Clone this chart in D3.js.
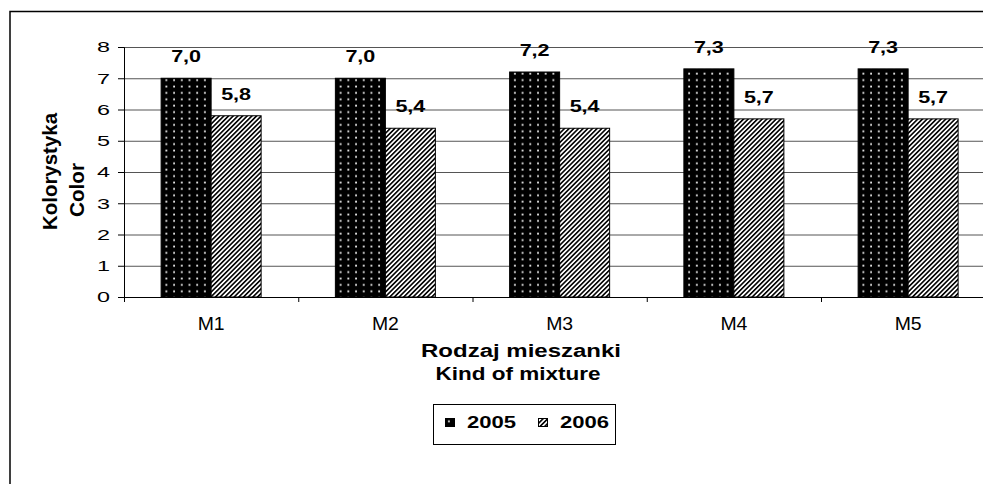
<!DOCTYPE html>
<html>
<head>
<meta charset="utf-8">
<script src="https://cdn.jsdelivr.net/npm/d3@7"></script>
<style>
  body { margin: 0; background: #fff; }
  svg text { font-family: "Liberation Sans", Arial, sans-serif; fill: #000; }
</style>
</head>
<body>
<div id="chart"></div>
<script>
// data
const categories = ["M1", "M2", "M3", "M4", "M5"];
const seriesNames = ["2005", "2006"];
const values2005 = [7.0, 7.0, 7.2, 7.3, 7.3];
const values2006 = [5.8, 5.4, 5.4, 5.7, 5.7];
const yTicks = [0, 1, 2, 3, 4, 5, 6, 7, 8];

const width = 983, height = 484;
const plot = { left: 124, right: 995.25, top: 47, bottom: 297 };

const svg = d3.select("#chart")
  .append("svg")
  .attr("width", width)
  .attr("height", height);

// fill patterns: black with white dots, white with diagonal stripes
const defs = svg.append("defs");
const dots = defs.append("pattern")
  .attr("id", "dots")
  .attr("patternUnits", "userSpaceOnUse")
  .attr("width", 7.7)
  .attr("height", 6.4);
dots.append("rect").attr("width", 7.7).attr("height", 6.4).attr("fill", "#000");
dots.append("rect").attr("x", 3).attr("y", 2.4).attr("width", 1.8).attr("height", 1.8).attr("fill", "#f0f0f0");

const stripes = defs.append("pattern")
  .attr("id", "stripes")
  .attr("patternUnits", "userSpaceOnUse")
  .attr("width", 3.3)
  .attr("height", 3.3)
  .attr("patternTransform", "rotate(45)");
stripes.append("rect").attr("width", 3.3).attr("height", 3.3).attr("fill", "#fff");
stripes.append("rect").attr("width", 1.6).attr("height", 3.3).attr("fill", "#000");

const fills = { "2005": "url(#dots)", "2006": "url(#stripes)" };

// outer frame (cut off at right and bottom)
svg.append("rect")
  .attr("x", 10).attr("y", 11.5)
  .attr("width", 1000).attr("height", 600)
  .attr("fill", "none")
  .attr("stroke", "#000")
  .attr("stroke-width", 1.5);

// scales
const x = d3.scaleBand().domain(categories).range([plot.left, plot.right]).padding(0);
const xInner = d3.scaleBand().domain(seriesNames).range([0, x.bandwidth()]).paddingInner(0).paddingOuter(0.7425);
const y = d3.scaleLinear().domain([0, 8]).range([plot.bottom, plot.top]);

// gridlines
svg.append("g")
  .attr("transform", `translate(${plot.left},0)`)
  .call(d3.axisLeft(y).tickValues(yTicks.slice(1)).tickSize(-(width - plot.left)).tickFormat(""))
  .call(g => g.select(".domain").remove())
  .call(g => g.selectAll("line").attr("stroke", "#555"));

// bars
const rows = categories.map((c, i) => ({ cat: c, vals: [values2005[i], values2006[i]] }));
const groups = svg.selectAll(".grp")
  .data(rows)
  .enter().append("g")
  .attr("class", "grp")
  .attr("transform", d => `translate(${x(d.cat)},0)`);

groups.selectAll("rect")
  .data(d => d.vals.map((v, j) => ({ s: seriesNames[j], v: v })))
  .enter().append("rect")
  .attr("x", d => xInner(d.s))
  .attr("y", d => y(d.v))
  .attr("width", xInner.bandwidth())
  .attr("height", d => y(0) - y(d.v))
  .attr("fill", d => fills[d.s])
  .attr("stroke", "#000")
  .attr("stroke-width", 1);

// value labels
const fmt = v => d3.format(".1f")(v).replace(".", ",");
groups.selectAll("text")
  .data(d => d.vals.map((v, j) => ({ s: seriesNames[j], v: v })))
  .enter().append("text")
  .attr("x", d => xInner(d.s) + xInner.bandwidth() / 2)
  .attr("y", d => y(d.v) - 16)
  .attr("text-anchor", "middle")
  .attr("font-size", 17)
  .attr("font-weight", "bold")
  .attr("textLength", 30)
  .attr("lengthAdjust", "spacingAndGlyphs")
  .text(d => fmt(d.v));

// y axis
svg.append("g")
  .attr("transform", `translate(${plot.left},0)`)
  .call(d3.axisLeft(y).tickValues(yTicks).tickSize(6).tickPadding(8).tickFormat(d3.format("d")))
  .call(g => g.selectAll("path,line").attr("stroke", "#000"))
  .call(g => g.selectAll("text")
    .attr("font-size", 15)
    .attr("font-family", "Liberation Sans, Arial, sans-serif")
    .attr("textLength", 13)
    .attr("lengthAdjust", "spacingAndGlyphs"));

// x axis: labels centred, ticks at category boundaries
const xAxis = svg.append("g")
  .attr("transform", `translate(0,${plot.bottom})`)
  .call(d3.axisBottom(x).tickSize(0).tickSizeOuter(0))
  .call(g => g.select(".domain").attr("stroke", "#000").attr("d", `M${plot.left},0.5H${width}`))
  .call(g => g.selectAll("text")
    .attr("y", 33).attr("dy", 0)
    .attr("font-size", 18)
    .attr("font-family", "Liberation Sans, Arial, sans-serif")
    .attr("textLength", 27)
    .attr("lengthAdjust", "spacingAndGlyphs"));

xAxis.selectAll(".bound")
  .data(categories)
  .enter().append("line")
  .attr("class", "bound")
  .attr("x1", d => x(d) + 0.5).attr("x2", d => x(d) + 0.5)
  .attr("y1", 0).attr("y2", 5)
  .attr("stroke", "#000");

// axis titles
svg.append("text")
  .attr("x", 521).attr("y", 357)
  .attr("text-anchor", "middle")
  .attr("font-size", 18).attr("font-weight", "bold")
  .attr("textLength", 200).attr("lengthAdjust", "spacingAndGlyphs")
  .text("Rodzaj mieszanki");
svg.append("text")
  .attr("x", 518).attr("y", 380)
  .attr("text-anchor", "middle")
  .attr("font-size", 18).attr("font-weight", "bold")
  .attr("textLength", 165).attr("lengthAdjust", "spacingAndGlyphs")
  .text("Kind of mixture");

svg.append("text")
  .attr("transform", "translate(57,171.5) rotate(-90)")
  .attr("text-anchor", "middle")
  .attr("font-size", 21).attr("font-weight", "bold")
  .attr("textLength", 117).attr("lengthAdjust", "spacingAndGlyphs")
  .text("Kolorystyka");
svg.append("text")
  .attr("transform", "translate(84,190) rotate(-90)")
  .attr("text-anchor", "middle")
  .attr("font-size", 21).attr("font-weight", "bold")
  .attr("textLength", 54).attr("lengthAdjust", "spacingAndGlyphs")
  .text("Color");

// legend
const legend = svg.append("g");
legend.append("rect")
  .attr("x", 433.5).attr("y", 404.5)
  .attr("width", 182).attr("height", 40)
  .attr("fill", "#fff").attr("stroke", "#000");

const legendX = { "2005": 445, "2006": 538 };
const items = legend.selectAll(".item")
  .data(seriesNames)
  .enter().append("g")
  .attr("class", "item")
  .attr("transform", d => `translate(${legendX[d]},418)`);
items.append("rect")
  .attr("x", 0.5).attr("y", 0.5)
  .attr("width", 9).attr("height", 8)
  .attr("fill", d => fills[d])
  .attr("stroke", "#000");
items.append("text")
  .attr("x", 22).attr("y", 10)
  .attr("font-size", 16).attr("font-weight", "bold")
  .attr("textLength", 49).attr("lengthAdjust", "spacingAndGlyphs")
  .text(d => d);
</script>
</body>
</html>
